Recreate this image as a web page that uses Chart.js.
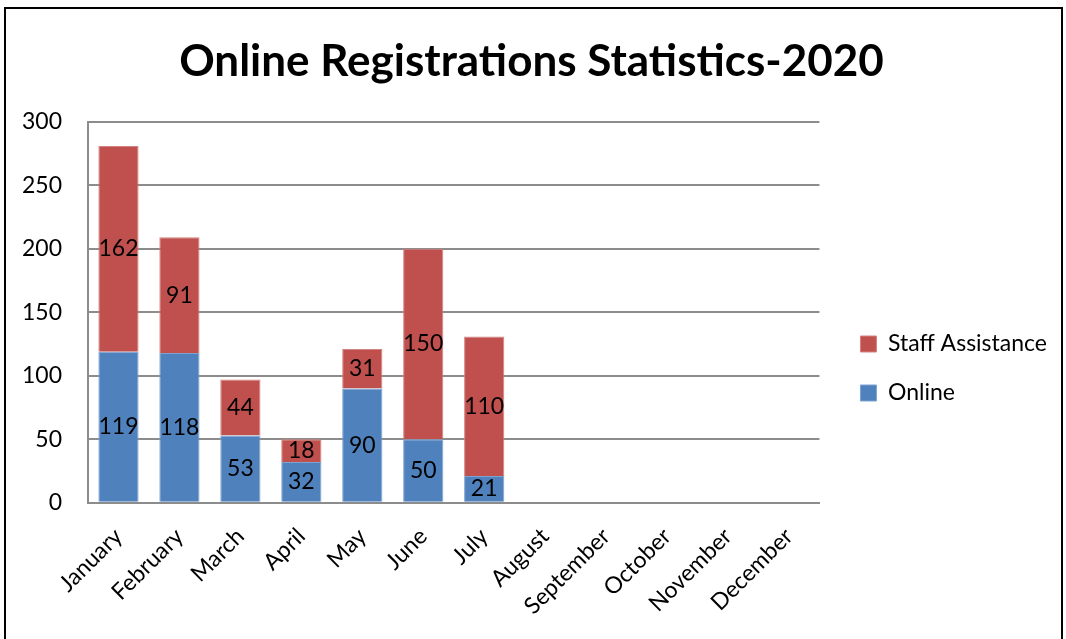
<!DOCTYPE html>
<html>
<head>
<meta charset="utf-8">
<script src="https://cdn.jsdelivr.net/npm/chart.js@4.4.1/dist/chart.umd.min.js"></script>
<style>
  html, body { margin: 0; padding: 0; background: #fff; overflow: hidden; }
  #frame {
    position: absolute; left: 4px; top: 7px; width: 1055px; height: 640px;
    border: 2px solid #000; border-bottom: none;
  }
  #wrap { position: relative; width: 1055px; height: 632px; }
</style>
</head>
<body>
<div id="frame"><div id="wrap"><canvas id="chart"></canvas></div></div>
<script>
// months on the x axis
const months = ['January', 'February', 'March', 'April', 'May', 'June', 'July',
  'August', 'September', 'October', 'November', 'December'];
// registrations per month
const online = [119, 118, 53, 32, 90, 50, 21, null, null, null, null, null];
const staffAssistance = [162, 91, 44, 18, 31, 150, 110, null, null, null, null, null];
const yTicks = [0, 50, 100, 150, 200, 250, 300];

const FONT = 'Lato, "Open Sans", sans-serif';
const LEGEND_GAP = 15; // extra room between plot and legend

// write the value in the middle of each bar segment
const barLabels = {
  id: 'barLabels',
  afterDatasetsDraw(chart) {
    const ctx = chart.ctx;
    ctx.save();
    ctx.font = '23px ' + FONT;
    ctx.fillStyle = '#000';
    ctx.textAlign = 'center';
    ctx.textBaseline = 'middle';
    chart.data.datasets.forEach((ds, i) => {
      chart.getDatasetMeta(i).data.forEach((bar, j) => {
        if (ds.data[j] == null) return;
        const mid = (bar.y + bar.base) / 2;
        ctx.fillText(String(ds.data[j]), bar.x, mid);
      });
    });
    ctx.restore();
  }
};

// make the legend box a bit wider without moving its items
const legendGap = {
  id: 'legendGap',
  afterInit(chart) {
    const legend = chart.legend;
    const fit = legend.fit.bind(legend);
    const draw = legend.draw.bind(legend);
    legend.fit = function () { fit(); this.width += LEGEND_GAP; };
    legend.draw = function () {
      this.left += LEGEND_GAP;
      draw();
      this.left -= LEGEND_GAP;
    };
  }
};

const ctx = document.getElementById('chart').getContext('2d');
new Chart(ctx, {
  type: 'bar',
  data: {
    labels: months,
    datasets: [
      {
        label: 'Online',
        data: online,
        backgroundColor: '#4F81BD',
        borderColor: '#7FA3D1',
        borderWidth: 1,
        barPercentage: 0.66,
        categoryPercentage: 1
      },
      {
        label: 'Staff Assistance',
        data: staffAssistance,
        backgroundColor: '#C0504D',
        borderColor: '#D38482',
        borderWidth: 1,
        barPercentage: 0.66,
        categoryPercentage: 1
      }
    ]
  },
  options: {
    responsive: true,
    maintainAspectRatio: false,
    animation: false,
    layout: { padding: { left: 0, right: 4, top: 0, bottom: 1 } },
    scales: {
      x: {
        stacked: true,
        grid: { display: false, drawTicks: false },
        border: { color: '#8c8c8c', width: 2 },
        afterFit(scale) { scale.paddingLeft = 0; },
        ticks: {
          color: '#000',
          font: { family: FONT, size: 23 },
          minRotation: 45,
          maxRotation: 45,
          padding: 20
        }
      },
      y: {
        stacked: true,
        min: 0,
        max: 300,
        afterBuildTicks(axis) { axis.ticks = yTicks.map(v => ({ value: v })); },
        afterFit(scale) { scale.width = 82; },
        grid: { color: '#8c8c8c', lineWidth: 2, drawTicks: false },
        border: { color: '#8c8c8c', width: 2 },
        ticks: {
          color: '#000',
          font: { family: FONT, size: 23 },
          padding: 26
        }
      }
    },
    plugins: {
      title: {
        display: true,
        text: 'Online Registrations Statistics-2020',
        color: '#000',
        font: { family: FONT, size: 44, weight: 'bold' },
        padding: { top: 26, bottom: 34 }
      },
      legend: {
        position: 'right',
        reverse: true,
        title: {
          display: true,
          text: ' ',
          font: { size: 10 },
          padding: { top: 76, bottom: 0 }
        },
        labels: {
          color: '#000',
          font: { family: FONT, size: 23 },
          boxWidth: 16,
          boxHeight: 16,
          padding: 26
        }
      },
      tooltip: { enabled: false }
    }
  },
  plugins: [barLabels, legendGap]
});
</script>
</body>
</html>
